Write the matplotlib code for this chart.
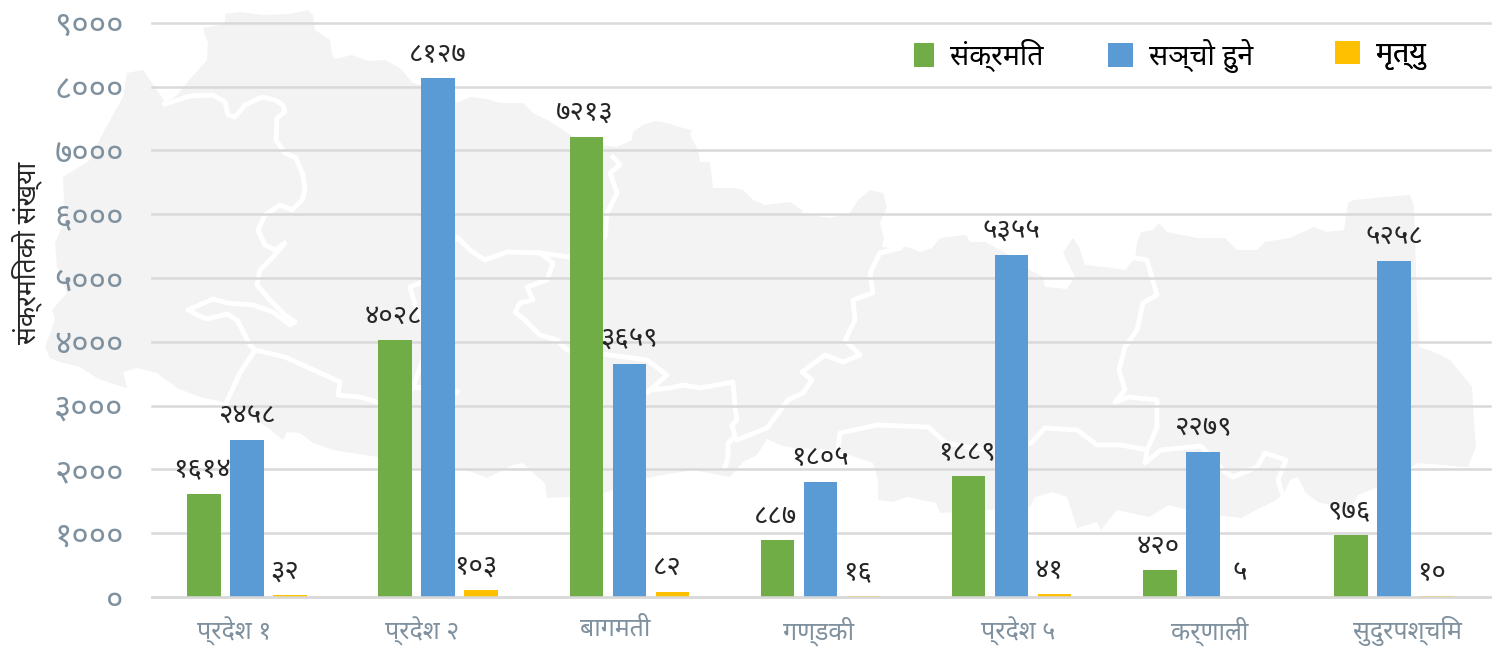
import matplotlib
matplotlib.use("Agg")
import matplotlib.pyplot as plt
from matplotlib.patches import Polygon

FONT = "Noto Sans"
TO_NEPALI = str.maketrans("0123456789", "०१२३४५६७८९")

categories = ["प्रदेश १", "प्रदेश २", "बागमती", "गण्डकी", "प्रदेश ५", "कर्णाली", "सुदुरपश्चिम"]
infected = [1614, 4028, 7213, 887, 1889, 420, 976]
recovered = [2458, 8127, 3659, 1805, 5355, 2279, 5258]
deaths = [32, 103, 82, 16, 41, 5, 10]
y_ticks = [0, 1000, 2000, 3000, 4000, 5000, 6000, 7000, 8000, 9000]
series_names = ["संक्रमित", "सञ्चो हुने", "मृत्यु"]
y_title = "संक्रमितको संख्या"

# the labels under the groups are not quite centred in the original
X_LABEL_SHIFT_PX = [-13, -16, -14, -2, 7, 7, 13]
LEGEND_X_PX = [914, 1108, 1335]
LEGEND_SQUARE_PX = [20, 25, 25]

# background map, traced in image pixels
MAP_OUTLINE = [
    (225, 14), (240, 12), (262, 15), (290, 14), (308, 10), (313, 15), (315, 30), (330, 40),
    (332, 55), (335, 59), (352, 55), (368, 61), (385, 60), (400, 68), (413, 83), (440, 90),
    (457, 103), (470, 97), (487, 99), (500, 103), (523, 103), (533, 113), (547, 120), (560, 128),
    (570, 135), (600, 145), (617, 147), (632, 140), (633, 132), (643, 125), (655, 121), (667, 123),
    (683, 128), (692, 130), (690, 135), (698, 150), (700, 162), (710, 162), (713, 188), (733, 188),
    (743, 190), (753, 200), (765, 205), (790, 202), (802, 210), (803, 214), (830, 218), (850, 213),
    (858, 200), (870, 190), (883, 193), (887, 207), (880, 223), (884, 238), (882, 247), (892, 248),
    (908, 247), (920, 252), (932, 248), (940, 238), (966, 235), (970, 242), (985, 242), (1010, 255),
    (1030, 270), (1043, 277), (1045, 287), (1067, 289), (1075, 277), (1063, 253), (1073, 238),
    (1079, 247), (1085, 265), (1105, 267), (1125, 270), (1135, 258), (1137, 243), (1141, 232),
    (1153, 230), (1159, 223), (1167, 232), (1197, 238), (1225, 238), (1237, 250), (1257, 250),
    (1265, 242), (1290, 238), (1314, 227), (1326, 232), (1344, 230), (1348, 203), (1354, 200),
    (1386, 197), (1410, 195), (1414, 207), (1417, 300), (1419, 347), (1434, 352), (1450, 360),
    (1458, 370), (1472, 387), (1474, 423), (1476, 447), (1468, 467), (1442, 465), (1418, 463),
    (1378, 487), (1358, 495), (1350, 510), (1318, 502), (1306, 493), (1298, 477), (1290, 480),
    (1284, 493), (1276, 500), (1241, 518), (1201, 513), (1169, 505), (1149, 517), (1117, 510),
    (1101, 530), (1097, 522), (1077, 528), (1067, 497), (1053, 492), (1035, 497), (1030, 507),
    (988, 510), (940, 513), (936, 503), (908, 497), (892, 502), (878, 500), (878, 480), (873, 463),
    (835, 450), (793, 448), (780, 445), (767, 439), (757, 455), (743, 462), (730, 477), (693, 470),
    (663, 475), (647, 478), (604, 493), (570, 497), (547, 498), (545, 483), (533, 473), (523, 463),
    (513, 465), (487, 478), (467, 470), (456, 470), (413, 468), (378, 457), (333, 450), (313, 443),
    (300, 433), (287, 432), (283, 440), (267, 427), (227, 403), (200, 397), (177, 388), (157, 373),
    (137, 368), (123, 372), (127, 388), (110, 383), (97, 378), (80, 367), (60, 362), (50, 358),
    (45, 347), (55, 320), (52, 310), (67, 293), (57, 267), (55, 243), (65, 220), (63, 177),
    (90, 160), (103, 133), (123, 97), (127, 73), (143, 70), (150, 80), (165, 102), (175, 97),
    (192, 77), (207, 60), (208, 43), (203, 28), (225, 24),
]
MAP_BORDERS = [
    [(165, 104), (190, 96), (213, 95), (225, 102), (228, 115), (235, 117), (245, 105), (262, 97),
     (275, 100), (283, 105), (285, 112), (277, 118), (276, 140), (285, 153), (296, 158), (303, 175),
     (305, 190), (302, 200), (292, 210), (280, 205), (265, 215), (258, 230), (265, 245), (275, 250),
     (285, 243), (272, 258), (260, 270), (257, 285), (270, 300), (285, 315), (295, 322), (290, 325),
     (273, 312), (253, 305), (227, 303), (213, 299), (188, 310), (197, 315), (207, 319), (227, 314),
     (237, 320), (250, 345), (255, 350), (240, 373), (227, 401)],
    [(255, 350), (285, 357), (340, 382), (338, 395), (360, 397), (380, 403), (400, 407), (413, 387), (457, 392)],
    [(413, 387), (430, 340), (415, 305), (410, 287), (420, 283), (457, 237), (470, 250), (485, 260),
     (507, 252), (540, 253), (553, 263), (547, 280), (527, 287), (533, 300), (520, 303), (515, 312),
     (525, 320), (540, 335), (557, 340), (567, 350), (610, 355), (647, 360), (667, 375), (648, 392)],
    [(540, 253), (570, 257), (605, 237), (607, 213), (617, 193), (610, 173), (620, 165), (613, 157)],
    [(650, 390), (670, 388), (683, 385), (700, 388), (733, 382), (735, 407), (737, 420), (732, 425),
     (735, 437), (728, 443), (728, 457), (725, 467)],
    [(737, 440), (767, 428), (788, 400), (803, 393), (812, 380), (802, 372), (825, 355), (843, 362),
     (860, 355), (845, 340), (855, 320), (853, 300), (873, 293), (870, 273), (880, 253), (900, 248)],
    [(835, 470), (840, 433), (877, 425), (928, 427), (946, 443), (985, 450), (1031, 443), (1045, 428),
     (1077, 430), (1097, 445), (1121, 445), (1147, 450), (1145, 463), (1161, 450), (1201, 446),
     (1225, 472), (1233, 477), (1257, 467), (1265, 453), (1286, 460), (1278, 480), (1282, 493)],
    [(1147, 450), (1157, 427), (1157, 400), (1129, 397), (1115, 402), (1125, 390), (1119, 370),
     (1125, 347), (1137, 330), (1143, 303), (1157, 295), (1147, 260), (1135, 258)],
]


def nepali(value):
    """Write a number in Devanagari digits."""
    return str(value).translate(TO_NEPALI)


fig = plt.figure(figsize=(15.01, 6.48), dpi=100)

bg = fig.add_axes([0, 0, 1, 1], zorder=0)
bg.set_xlim(0, 1501)
bg.set_ylim(648, 0)
bg.axis("off")
bg.add_patch(Polygon(MAP_OUTLINE, closed=True, facecolor="#f3f3f3", edgecolor="none"))
for border in MAP_BORDERS:
    bg.plot([p[0] for p in border], [p[1] for p in border], color="white", lw=3.5, solid_joinstyle="round")

ax = fig.add_axes([151.5 / 1501, 51 / 648, 1338 / 1501, 574.3 / 648], zorder=1)
ax.patch.set_alpha(0)
for spine in ax.spines.values():
    spine.set_visible(False)

positions = list(range(len(categories)))
width = 0.175
step = 0.225
series = [
    (infected, "#70ad47", -step, -1.5, 2),
    (recovered, "#5b9bd5", 0, 0, 3),
    (deaths, "#ffc000", step, -4, 3),
]
handles = []
for values, color, shift, label_dx, z in series:
    xs = [p + shift for p in positions]
    handles.append(ax.bar(xs, values, width=width, color=color, zorder=z))
    for x, value in zip(xs, values):
        ax.annotate(nepali(value), (x, value), xytext=(label_dx, 17), textcoords="offset points",
                    ha="center", va="center", fontsize=20, family=FONT, color="#262626", zorder=z + 0.5)

ax.set_xlim(-0.5, len(categories) - 0.5)
ax.set_ylim(0, 9000)
ax.set_yticks(y_ticks)
ax.set_yticklabels([nepali(t) for t in y_ticks], family=FONT, fontsize=24, color="#7f919f")
ax.set_xticks([p + dx / 191 for p, dx in zip(positions, X_LABEL_SHIFT_PX)])
ax.set_xticklabels(categories, family=FONT, fontsize=18, color="#7f919f")
ax.tick_params(axis="y", length=0, pad=20)
ax.tick_params(axis="x", length=0, pad=14)
ax.grid(axis="y", color="#d9d9d9", lw=1.8, zorder=1)
ax.set_axisbelow(True)
for line in ax.get_ygridlines():
    line.set_clip_on(False)
ax.axhline(0, color="#d9d9d9", lw=1.8, zorder=5, clip_on=False)

ax.set_ylabel(y_title, family=FONT, fontsize=19, color="#262626")
ax.yaxis.set_label_coords(-0.0815, 0.6)

# one legend per entry, the original spaces them unevenly
for handle, name, x_px, square_px in zip(handles, series_names, LEGEND_X_PX, LEGEND_SQUARE_PX):
    legend = ax.legend([handle], [name], frameon=False, loc="center left",
                       bbox_to_anchor=((x_px - 151.5) / 1338, (597 - 55.5) / 574.3),
                       prop={"family": FONT, "size": 20.5},
                       handlelength=square_px / 28.5, handleheight=0.9, handletextpad=0.55,
                       borderpad=0, borderaxespad=0)
    legend.set_zorder(10)
    ax.add_artist(legend)

fig.savefig("out.png", dpi=100)
